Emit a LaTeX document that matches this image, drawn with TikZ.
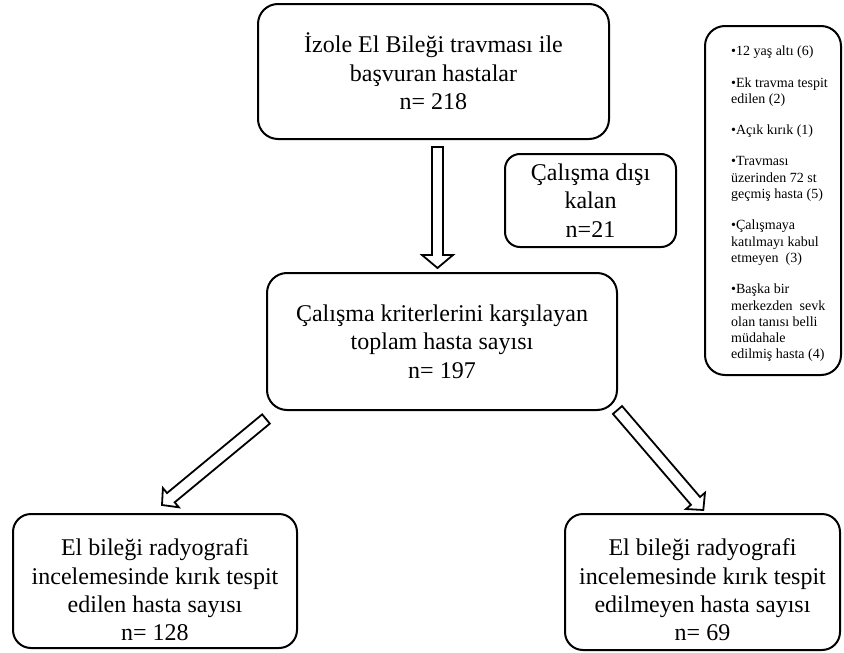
\documentclass[tikz,border=0pt]{standalone}
\usepackage{fontspec}
\setmainfont{Liberation Serif}
\usetikzlibrary{calc}
\tikzset{
  box/.style={draw, line width=2pt, rounded corners=20pt, align=center,
    font=\fontsize{24}{28.4}\selectfont, inner sep=0pt},
  smallbox/.style={box, rounded corners=15pt},
  boxtext/.style={align=center, font=\fontsize{24}{28.4}\selectfont, inner sep=0pt},
  listbox/.style={draw, line width=2pt, rounded corners=20pt, inner sep=0pt},
  listtext/.style={align=left, font=\fontsize{14}{16.3}\selectfont, inner sep=0pt},
  barrow/.style={draw, line width=1.8pt, fill=white, line join=miter},
}
% block arrow from #1 to #2: shaft half width #3, head half width #4, head length #5
\newcommand\blockarr[5]{%
  \draw[barrow] let \p1=(#1), \p2=(#2),
    \n1={veclen((\x2)-(\x1),(\y2)-(\y1))},
    \n2={((\x2)-(\x1))/(\n1)},
    \n3={((\y2)-(\y1))/(\n1)} in
    ({(\x1)-#3*(\n3)},{(\y1)+#3*(\n2)})
    -- ({(\x2)-#5*(\n2)-#3*(\n3)},{(\y2)-#5*(\n3)+#3*(\n2)})
    -- ({(\x2)-#5*(\n2)-#4*(\n3)},{(\y2)-#5*(\n3)+#4*(\n2)})
    -- (\p2)
    -- ({(\x2)-#5*(\n2)+#4*(\n3)},{(\y2)-#5*(\n3)-#4*(\n2)})
    -- ({(\x2)-#5*(\n2)+#3*(\n3)},{(\y2)-#5*(\n3)-#3*(\n2)})
    -- ({(\x1)+#3*(\n3)},{(\y1)-#3*(\n2)})
    -- cycle;}
\begin{document}
\begin{tikzpicture}[x=1pt,y=-1pt]
\useasboundingbox (0,0) rectangle (844,653);

\node[box, minimum width=351pt, minimum height=135pt] (top) at (433.5,71.5)
  {İzole El Bileği travması ile\\başvuran hastalar\\n= 218};
\node[smallbox, minimum width=171pt, minimum height=93pt] (excl) at (590.5,200.5)
  {Çalışma dışı\\kalan\\n=21};
\node[box, minimum width=350pt, minimum height=137pt] (mid) at (442,341.5)
  {Çalışma kriterlerini karşılayan\\toplam hasta sayısı\\n= 197};

\node[box, rounded corners=18pt, minimum width=284pt, minimum height=134pt] (left) at (155,581) {};
\node[boxtext] (lefttxt) at ($(left.center)+(0,9)$)
  {El bileği radyografi\\incelemesinde kırık tespit\\edilen hasta sayısı\\n= 128};
\node[box, rounded corners=18pt, minimum width=275pt, minimum height=136pt] (right) at (702.5,582) {};
\node[boxtext] (righttxt) at ($(right.center)+(0,8)$)
  {El bileği radyografi\\incelemesinde kırık tespit\\edilmeyen hasta sayısı\\n= 69};

\node[listbox, minimum width=136pt, minimum height=349pt] (list) at (773,200.5) {};
\node[listtext, anchor=west] (listtxt) at (731,204)
  {•12 yaş altı (6)\\[15pt]
   •Ek travma tespit\\edilen (2)\\[15pt]
   •Açık kırık (1)\\[15pt]
   •Travması\\üzerinden 72 st\\geçmiş hasta (5)\\[15pt]
   •Çalışmaya\\katılmayı kabul\\etmeyen~~(3)\\[15pt]
   •Başka bir\\merkezden~~sevk\\olan tanısı belli\\müdahale\\edilmiş hasta (4)};

\coordinate (a1s) at (437.5,147);
\coordinate (a1e) at (437.5,268);
\coordinate (a2s) at (266,419);
\coordinate (a2e) at (162,505);
\coordinate (a3s) at (617.5,410);
\coordinate (a3e) at (703.3,510);

\blockarr{a1s}{a1e}{5.5pt}{15.5pt}{13pt}
\blockarr{a2s}{a2e}{6pt}{12.5pt}{11.5pt}
\blockarr{a3s}{a3e}{6pt}{12.5pt}{12pt}
\end{tikzpicture}
\end{document}
